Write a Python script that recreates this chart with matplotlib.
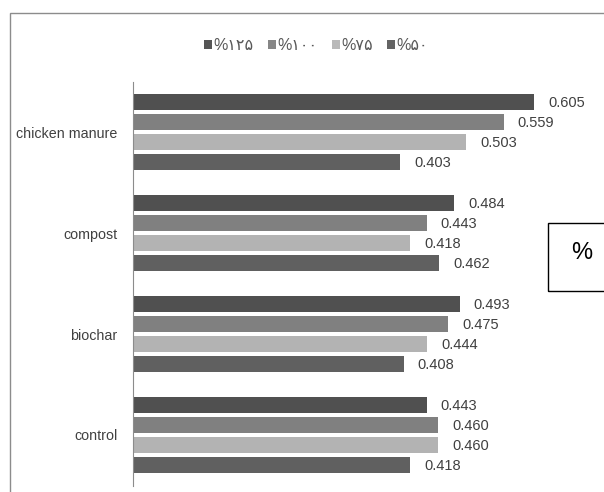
import numpy as np
from matplotlib import pyplot as plt
from matplotlib.patches import Rectangle, Patch

plt.rcParams['font.family'] = ['Liberation Sans', 'DejaVu Sans']

categories = ['chicken manure', 'compost', 'biochar', 'control']
series = ['%۱۲۵', '%۱۰۰', '%۷۵', '%۵۰']
colors = ['#505050', '#808080', '#b3b3b3', '#606060']
legend_colors = ['#555555', '#868686', '#b9b9b9', '#646464']

vals_125 = [0.605, 0.484, 0.493, 0.443]
vals_100 = [0.559, 0.443, 0.475, 0.460]
vals_75 = [0.503, 0.418, 0.444, 0.460]
vals_50 = [0.403, 0.462, 0.408, 0.418]
values = [vals_125, vals_100, vals_75, vals_50]

W, H = 604, 492
fig = plt.figure(figsize=(W / 100, H / 100), dpi=100)

# grey outer chart border (runs off the right and bottom edges)
fig.add_artist(Rectangle((10 / W, -0.1), 1.2, 1 - 13 / H + 0.1, transform=fig.transFigure,
                         fill=False, edgecolor='#8c8c8c', linewidth=1.0))

ax = fig.add_axes([133 / W, 6.5 / H, (W - 133) / W, 404 / H])
y = np.arange(len(categories))
for j, vals in enumerate(values):
    pos = y - 0.3 + 0.2 * j
    ax.barh(pos, vals, height=0.16, color=colors[j])
    for p, v in zip(pos, vals):
        ax.annotate(f'{v:.3f}', (v, p), xytext=(14, -1), textcoords='offset pixels',
                    va='center', ha='left', fontsize=10.5, color='#404040')

ax.set_xlim(0, (W - 133) / 663)
ax.set_ylim(3.5, -0.5)
ax.set_yticks(y)
ax.set_yticklabels(categories, fontsize=10.3, color='#404040')
ax.tick_params(axis='y', length=0, pad=11)
ax.set_xticks([])
for s in ['top', 'right', 'bottom']:
    ax.spines[s].set_visible(False)
ax.spines['left'].set_color('#8c8c8c')
ax.spines['left'].set_linewidth(0.8)

handles = [Patch(facecolor=c, edgecolor='none') for c in legend_colors]
fig.legend(handles, series, loc='center', bbox_to_anchor=(316 / W, 1 - 45.7 / H), ncol=4,
           frameon=False, fontsize=11.5, handlelength=0.5, handleheight=0.5,
           handletextpad=0.1, columnspacing=0.9, labelcolor='#595959')

# box with the percent sign on the right
fig.add_artist(Rectangle((548 / W, 1 - 291 / H), 0.2, 68 / H, transform=fig.transFigure,
                         fill=False, edgecolor='black', linewidth=1.0))
fig.text(581.7 / W, 1 - 253.3 / H, '%', ha='center', va='center', fontsize=17, color='black')

plt.savefig('out.png', dpi=100)
